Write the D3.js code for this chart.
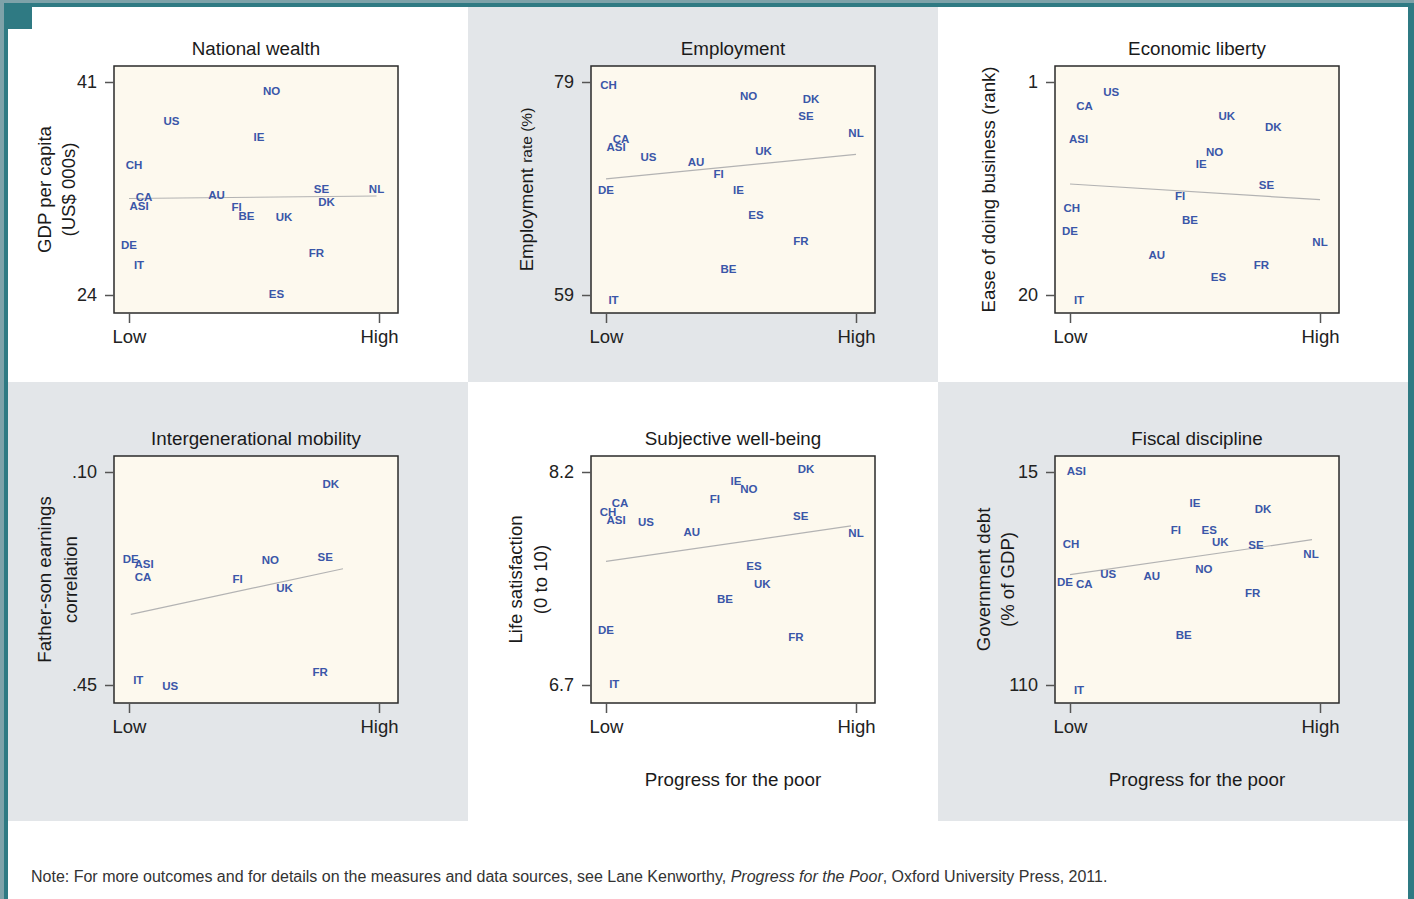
<!DOCTYPE html>
<html>
<head>
<meta charset="utf-8">
<script src="https://cdn.jsdelivr.net/npm/d3@7"></script>
<style>
  body { margin: 0; background: #fff; }
  svg { display: block; font-family: "Liberation Sans", Arial, Helvetica, sans-serif; }
</style>
</head>
<body>
<svg id="chart" width="1414" height="899"></svg>
<script>
// x axis is the same for every panel: progress for the poor, 0 = Low, 1 = High
const xTicks = [0, 1];
const xTickLabels = ["Low", "High"];

// National wealth: GDP per capita (US$ 000s)
const wealthCodes = ["NO", "US", "IE", "CH", "SE", "NL", "CA", "AU", "ASI", "DK", "FI", "BE", "UK", "DE", "FR", "IT", "ES"];
const wealthX = [0.57, 0.17, 0.52, 0.02, 0.77, 0.99, 0.06, 0.35, 0.04, 0.79, 0.43, 0.47, 0.62, 0.0, 0.75, 0.04, 0.59];
const wealthY = [40.3, 37.9, 36.6, 34.4, 32.5, 32.5, 31.8, 32.0, 31.1, 31.4, 31.0, 30.3, 30.2, 28.0, 27.4, 26.4, 24.1];
const wealthFit = [[0, 31.7], [0.99, 31.9]];
const wealthTicks = [41, 24];

// Employment rate (%)
const employCodes = ["CH", "NO", "DK", "SE", "NL", "CA", "ASI", "UK", "US", "AU", "FI", "DE", "IE", "ES", "FR", "BE", "IT"];
const employX = [0.01, 0.57, 0.82, 0.8, 1.0, 0.06, 0.04, 0.63, 0.17, 0.36, 0.45, 0.0, 0.53, 0.6, 0.78, 0.49, 0.03];
const employY = [78.7, 77.7, 77.4, 75.8, 74.2, 73.7, 72.9, 72.5, 72.0, 71.5, 70.4, 68.9, 68.9, 66.5, 64.1, 61.5, 58.5];
const employFit = [[0, 69.9], [1, 72.2]];
const employTicks = [79, 59];

// Economic liberty: ease of doing business (rank)
const libertyCodes = ["US", "CA", "UK", "DK", "ASI", "NO", "IE", "SE", "FI", "CH", "BE", "DE", "NL", "AU", "FR", "ES", "IT"];
const libertyX = [0.165, 0.058, 0.627, 0.813, 0.034, 0.578, 0.525, 0.786, 0.44, 0.007, 0.48, 0.0, 1.0, 0.347, 0.766, 0.594, 0.036];
const libertyY = [1.9, 3.1, 4.0, 5.0, 6.1, 7.2, 8.3, 10.2, 11.2, 12.2, 13.3, 14.3, 15.3, 16.4, 17.3, 18.4, 20.4];
const libertyFit = [[0, 10.1], [1, 11.5]];
const libertyTicks = [1, 20];

// Intergenerational mobility: father-son earnings correlation
const mobilityCodes = ["DK", "SE", "NO", "DE", "ASI", "CA", "FI", "UK", "FR", "IT", "US"];
const mobilityX = [0.807, 0.785, 0.565, 0.007, 0.06, 0.056, 0.434, 0.622, 0.765, 0.037, 0.165];
const mobilityY = [0.12, 0.24, 0.245, 0.242, 0.251, 0.272, 0.275, 0.29, 0.428, 0.441, 0.451];
const mobilityFit = [[0.007, 0.334], [0.856, 0.259]];
const mobilityTicks = [0.10, 0.45];

// Subjective well-being: life satisfaction (0 to 10)
const wellCodes = ["DK", "IE", "NO", "FI", "CA", "CH", "ASI", "US", "SE", "AU", "NL", "ES", "UK", "BE", "DE", "FR", "IT"];
const wellX = [0.8, 0.52, 0.571, 0.435, 0.056, 0.008, 0.04, 0.16, 0.779, 0.343, 1.0, 0.592, 0.625, 0.476, 0.0, 0.76, 0.033];
const wellY = [8.22, 8.14, 8.08, 8.01, 7.98, 7.92, 7.86, 7.85, 7.89, 7.78, 7.77, 7.54, 7.41, 7.31, 7.09, 7.04, 6.71];
const wellFit = [[0, 7.57], [0.98, 7.82]];
const wellTicks = [8.2, 6.7];

// Fiscal discipline: government debt (% of GDP)
const debtCodes = ["ASI", "IE", "DK", "FI", "ES", "UK", "CH", "SE", "NL", "NO", "US", "AU", "DE", "CA", "FR", "BE", "IT"];
const debtX = [0.025, 0.5, 0.772, 0.423, 0.557, 0.601, 0.004, 0.744, 0.964, 0.535, 0.153, 0.327, -0.02, 0.057, 0.731, 0.455, 0.036];
const debtY = [14.6, 28.6, 31.6, 40.9, 40.9, 46.0, 46.9, 47.7, 51.4, 58.1, 60.6, 61.1, 63.9, 64.7, 68.7, 87.5, 112.1];
const debtFit = [[0, 60.8], [0.968, 45.2]];
const debtTicks = [15, 110];

const boxW = 284;
const boxH = 247;
const teal = "#2f7a83";
const panelGray = "#e3e6e9";

const panels = [
  { title: "National wealth", ylab: ["GDP per capita", "(US$ 000s)"], ylabX: [-70, -46],
    codes: wealthCodes, xs: wealthX, ys: wealthY, fit: wealthFit, ticks: wealthTicks, fmt: d3.format("d"),
    left: 114, top: 66 },
  { title: "Employment", ylab: null, ylabX: [-65],
    codes: employCodes, xs: employX, ys: employY, fit: employFit, ticks: employTicks, fmt: d3.format("d"),
    left: 591, top: 66 },
  { title: "Economic liberty", ylab: ["Ease of doing business (rank)"], ylabX: [-67],
    codes: libertyCodes, xs: libertyX, ys: libertyY, fit: libertyFit, ticks: libertyTicks, fmt: d3.format("d"),
    left: 1055, top: 66 },
  { title: "Intergenerational mobility", ylab: ["Father-son earnings", "correlation"], ylabX: [-70, -44],
    codes: mobilityCodes, xs: mobilityX, ys: mobilityY, fit: mobilityFit, ticks: mobilityTicks,
    fmt: (d) => d3.format(".2f")(d).replace(/^0/, ""),
    left: 114, top: 456 },
  { title: "Subjective well-being", ylab: ["Life satisfaction", "(0 to 10)"], ylabX: [-76, -51],
    codes: wellCodes, xs: wellX, ys: wellY, fit: wellFit, ticks: wellTicks, fmt: d3.format(".1f"),
    left: 591, top: 456, xTitle: "Progress for the poor" },
  { title: "Fiscal discipline", ylab: ["Government debt", "(% of GDP)"], ylabX: [-72, -48],
    codes: debtCodes, xs: debtX, ys: debtY, fit: debtFit, ticks: debtTicks, fmt: d3.format("d"),
    left: 1055, top: 456, xTitle: "Progress for the poor" },
];

const svg = d3.select("#chart");

// page frame and panel backgrounds
svg.append("rect").attr("width", 1414).attr("height", 899).attr("fill", "#fff");
const cells = [
  [8, 7, 460, 375, "#fff"], [468, 7, 470, 375, panelGray], [938, 7, 470, 375, "#fff"],
  [8, 382, 460, 439, panelGray], [468, 382, 470, 439, "#fff"], [938, 382, 470, 439, panelGray],
];
svg.selectAll("rect.cell")
  .data(cells)
  .join("rect")
  .attr("class", "cell")
  .attr("x", (d) => d[0]).attr("y", (d) => d[1])
  .attr("width", (d) => d[2]).attr("height", (d) => d[3])
  .attr("fill", (d) => d[4]);

svg.append("rect").attr("x", 0).attr("y", 0).attr("width", 1414).attr("height", 3).attr("fill", "#7ea2a9");
svg.append("rect").attr("x", 0).attr("y", 3).attr("width", 1414).attr("height", 4).attr("fill", teal);
svg.append("rect").attr("x", 0).attr("y", 0).attr("width", 4).attr("height", 899).attr("fill", "#7ea2a9");
svg.append("rect").attr("x", 4).attr("y", 3).attr("width", 4).attr("height", 896).attr("fill", teal);
svg.append("rect").attr("x", 1408).attr("y", 3).attr("width", 6).attr("height", 896).attr("fill", teal);
svg.append("rect").attr("x", 8).attr("y", 7).attr("width", 24).attr("height", 22).attr("fill", teal);

panels.forEach((p) => {
  const g = svg.append("g").attr("transform", `translate(${p.left},${p.top})`);

  const x = d3.scaleLinear().domain(xTicks).range([15, 265]);
  const y = d3.scaleLinear().domain(p.ticks).range([16, 229]);

  g.append("rect")
    .attr("width", boxW)
    .attr("height", boxH)
    .attr("fill", "#fdf9ee")
    .attr("stroke", "#2a2a2a")
    .attr("stroke-width", 1.5);

  g.append("g")
    .call(d3.axisLeft(y).tickValues(p.ticks).tickSize(9).tickPadding(8).tickFormat(p.fmt))
    .call((a) => a.select(".domain").remove())
    .call((a) => a.selectAll("line").attr("stroke", "#555").attr("stroke-width", 1.5))
    .call((a) => a.selectAll("text").attr("font-size", 18).attr("fill", "#222").attr("font-family", null));

  g.append("g")
    .attr("transform", `translate(0,${boxH})`)
    .call(d3.axisBottom(x).tickValues(xTicks).tickSize(10).tickPadding(7).tickFormat((d, i) => xTickLabels[i]))
    .call((a) => a.select(".domain").remove())
    .call((a) => a.selectAll("line").attr("stroke", "#555").attr("stroke-width", 1.5))
    .call((a) => a.selectAll("text").attr("font-size", 18.5).attr("fill", "#222").attr("font-family", null));

  g.append("line")
    .attr("x1", x(p.fit[0][0])).attr("y1", y(p.fit[0][1]))
    .attr("x2", x(p.fit[1][0])).attr("y2", y(p.fit[1][1]))
    .attr("stroke", "#b3b3b3")
    .attr("stroke-width", 1.2);

  const rows = d3.zip(p.codes, p.xs, p.ys);
  g.selectAll("text.lab")
    .data(rows)
    .join("text")
    .attr("class", "lab")
    .attr("x", (d) => x(d[1]))
    .attr("y", (d) => y(d[2]))
    .attr("dy", "0.36em")
    .attr("text-anchor", "middle")
    .attr("font-size", 11.5)
    .attr("font-weight", "bold")
    .attr("fill", "#3a56a8")
    .text((d) => d[0]);

  g.append("text")
    .attr("x", boxW / 2)
    .attr("y", -11)
    .attr("text-anchor", "middle")
    .attr("font-size", 18.8)
    .attr("fill", "#1a1a1a")
    .text(p.title);

  if (p.ylab) {
    p.ylab.forEach((line, i) => {
      g.append("text")
        .attr("transform", `translate(${p.ylabX[i]},${boxH / 2}) rotate(-90)`)
        .attr("text-anchor", "middle")
        .attr("dominant-baseline", "central")
        .attr("font-size", 18.6)
        .attr("fill", "#1a1a1a")
        .text(line);
    });
  } else {
    const t = g.append("text")
      .attr("transform", `translate(${p.ylabX[0]},${boxH / 2}) rotate(-90)`)
      .attr("text-anchor", "middle")
      .attr("dominant-baseline", "central")
      .attr("fill", "#1a1a1a");
    t.append("tspan").attr("font-size", 18.6).text("Employment ");
    t.append("tspan").attr("font-size", 15.5).text("rate (%)");
  }

  if (p.xTitle) {
    g.append("text")
      .attr("x", boxW / 2)
      .attr("y", 330)
      .attr("text-anchor", "middle")
      .attr("font-size", 18.8)
      .attr("fill", "#1a1a1a")
      .text(p.xTitle);
  }
});

const note = svg.append("text")
  .attr("x", 31)
  .attr("y", 882)
  .attr("font-size", 16)
  .attr("fill", "#333");
note.append("tspan").text("Note: For more outcomes and for details on the measures and data sources, see Lane Kenworthy, ");
note.append("tspan").attr("font-style", "italic").text("Progress for the Poor");
note.append("tspan").text(", Oxford University Press, 2011.");
</script>
</body>
</html>
